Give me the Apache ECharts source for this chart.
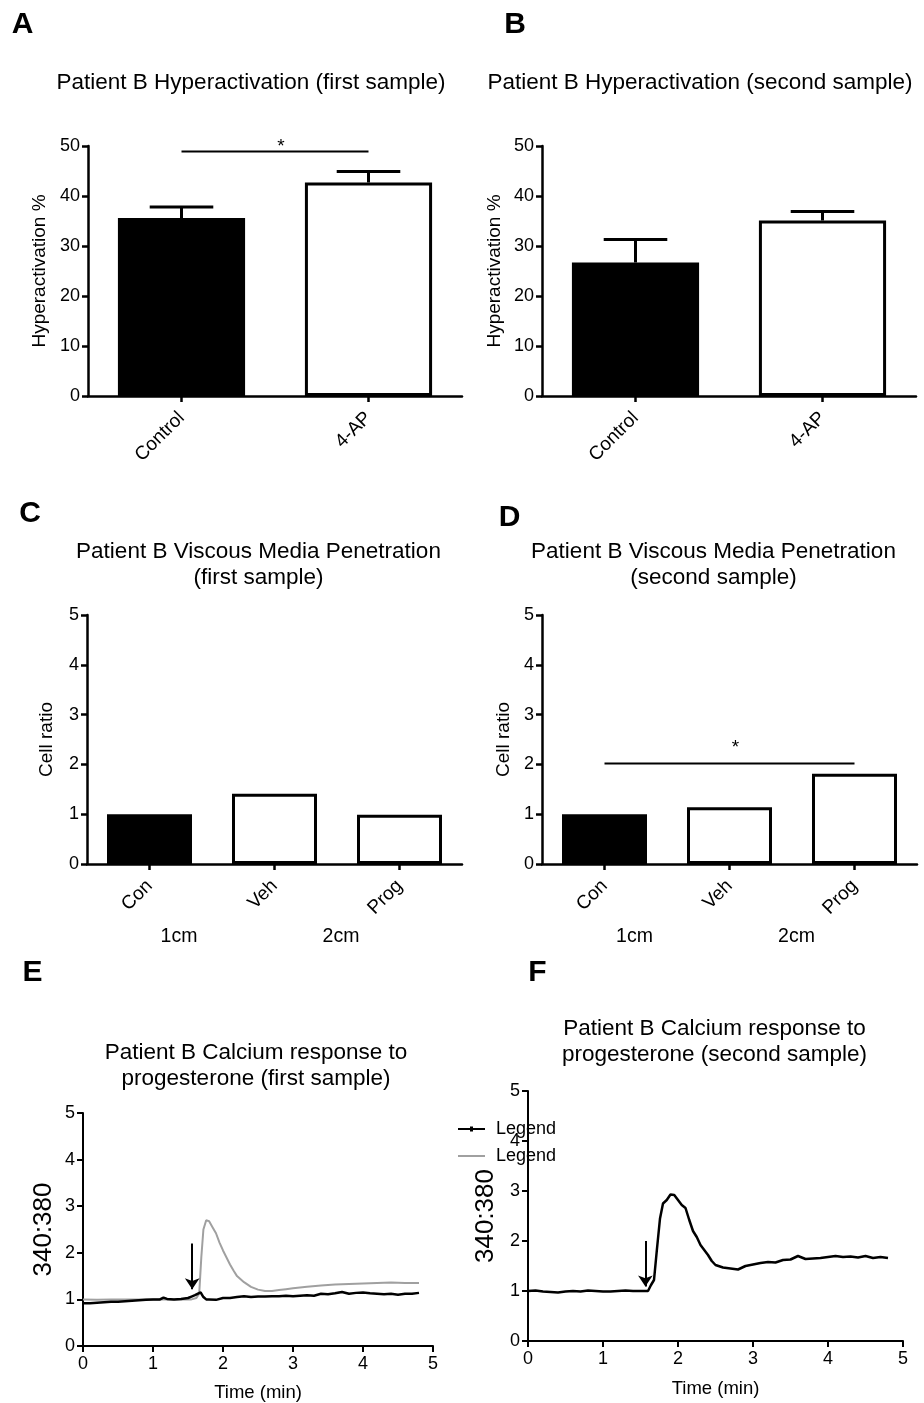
<!DOCTYPE html>
<html><head><meta charset="utf-8">
<script src="https://cdn.jsdelivr.net/npm/echarts@6/dist/echarts.min.js"></script>
<style>html,body{margin:0;padding:0;background:#fff}#c{width:924px;height:1403px}</style>
</head><body><div id="c"></div>
<script>
const FONT = '"Liberation Sans", Arial, Helvetica, sans-serif';

// ---- Panels A / B : hyperactivation ----
const hyperCats = ['Control', '4-AP'];
const hyperA = [35.6, 42.7];
const hyperAErr = [2.2, 2.2];
const hyperB = [26.7, 35.1];
const hyperBErr = [4.6, 1.8];
const sigA = [0, 1, 48.9, 50.6]; // from category, to category, line value, star value

// ---- Panels C / D : viscous media penetration ----
const penCats = ['Con', 'Veh', 'Prog'];
const penC = [1.0, 1.41, 0.99];
const penD = [1.0, 1.14, 1.81];
const sigD = [0, 2, 2.02, 2.41];
const penGroups = ['1cm', '2cm'];

// ---- Panel E : calcium response (first sample) ----
const eBlackT = [0,0.1,0.2,0.3,0.4,0.5,0.6,0.7,0.8,0.9,1.0,1.1,1.15,1.2,1.3,1.4,1.5,1.55,1.6,1.65,1.68,1.72,1.76,1.8,1.9,
  2.0,2.1,2.2,2.3,2.4,2.5,2.6,2.7,2.8,2.9,3.0,3.1,3.2,3.3,3.4,3.5,3.6,3.7,3.8,3.9,4.0,4.1,4.2,4.3,4.4,4.5,4.6,4.7,4.8];
const eBlackV = [0.92,0.92,0.93,0.94,0.95,0.95,0.96,0.97,0.98,0.99,1.0,1.0,1.04,1.01,1.0,1.01,1.03,1.06,1.09,1.13,1.15,1.05,1.0,1.0,0.99,
  1.03,1.03,1.05,1.07,1.05,1.06,1.06,1.07,1.07,1.08,1.07,1.08,1.09,1.08,1.12,1.11,1.13,1.16,1.12,1.14,1.15,1.13,1.12,1.11,1.12,1.10,1.12,1.12,1.14];
const eGrayT = [0,0.2,0.4,0.6,0.8,1.0,1.2,1.4,1.55,1.62,1.66,1.69,1.72,1.76,1.8,1.85,1.9,1.95,2.0,2.05,2.1,2.15,2.2,
  2.3,2.4,2.5,2.6,2.7,2.8,2.9,3.0,3.2,3.4,3.6,3.8,4.0,4.2,4.4,4.6,4.8];
const eGrayV = [1.0,0.99,1.0,1.0,1.0,1.0,1.0,1.0,1.0,1.03,1.12,1.9,2.5,2.7,2.68,2.55,2.42,2.22,2.05,1.9,1.75,1.62,1.5,
  1.37,1.27,1.21,1.18,1.18,1.2,1.22,1.24,1.27,1.3,1.32,1.33,1.34,1.35,1.36,1.35,1.35];
const arrowE = [1.56, 2.2, 1.22]; // time, start value, end value

// ---- Panel F : calcium response (second sample) ----
const fT = [0,0.1,0.2,0.3,0.4,0.5,0.6,0.7,0.8,0.9,1.0,1.1,1.2,1.3,1.4,1.5,1.6,
  1.64,1.68,1.72,1.76,1.8,1.85,1.9,1.95,2.0,2.05,2.1,2.15,2.2,2.25,2.3,2.35,2.4,2.45,2.5,
  2.6,2.7,2.8,2.9,3.0,3.1,3.2,3.3,3.4,3.5,3.6,3.7,3.8,3.9,4.0,4.1,4.2,4.3,4.4,4.5,4.6,4.7,4.8];
const fV = [1.0,1.01,0.99,0.98,0.97,0.99,1.0,0.99,1.01,1.0,0.99,0.99,1.0,1.01,1.0,1.0,1.0,
  1.12,1.22,1.85,2.45,2.75,2.82,2.93,2.92,2.82,2.72,2.66,2.42,2.2,2.08,1.92,1.82,1.72,1.6,1.52,
  1.47,1.45,1.43,1.5,1.53,1.56,1.58,1.57,1.62,1.63,1.7,1.64,1.65,1.66,1.68,1.7,1.68,1.69,1.67,1.7,1.66,1.68,1.66];
const arrowF = [1.565, 2.0, 1.09];

const zip = (a, b) => a.map((t, i) => [t, b[i]]);

// ---- helpers ----
const grids = [
  {left: 88, top: 146, width: 374, height: 250},
  {left: 542, top: 146, width: 374, height: 250},
  {left: 87, top: 615, width: 375, height: 249},
  {left: 542, top: 615, width: 375, height: 249},
  {left: 83, top: 1113, width: 350, height: 233},
  {left: 528, top: 1091, width: 375, height: 250}
];

function catX(gi, cats) {
  return {type: 'category', gridIndex: gi, data: cats,
    axisLine: {show: true, lineStyle: {color: '#000', width: 2.5}},
    axisTick: {show: true, alignWithLabel: true, length: 6, lineStyle: {color: '#000', width: 2.5}},
    axisLabel: {rotate: 45, fontSize: 19, color: '#000', fontFamily: FONT, margin: 19},
    splitLine: {show: false}};
}
function valY(gi, max, interval, name, nameGap, nameSize, lw) {
  return {type: 'value', gridIndex: gi, min: 0, max: max, interval: interval,
    name: name, nameLocation: 'middle', nameGap: nameGap, nameRotate: 90,
    nameTextStyle: {fontSize: nameSize, color: '#000', fontFamily: FONT},
    axisLine: {show: true, lineStyle: {color: '#000', width: lw}},
    axisTick: {show: true, length: 6, lineStyle: {color: '#000', width: lw}},
    axisLabel: {fontSize: 18, color: '#000', fontFamily: FONT, margin: 8},
    splitLine: {show: false}};
}
function timeX(gi, nameGap) {
  return {type: 'value', gridIndex: gi, min: 0, max: 5, interval: 1,
    name: 'Time (min)', nameLocation: 'middle', nameGap: nameGap,
    nameTextStyle: {fontSize: 18.5, color: '#000', fontFamily: FONT},
    axisLine: {show: true, onZero: false, lineStyle: {color: '#000', width: 2}},
    axisTick: {show: true, length: 6, lineStyle: {color: '#000', width: 2}},
    axisLabel: {fontSize: 18, color: '#000', fontFamily: FONT, margin: 9},
    splitLine: {show: false}};
}
function barSeries(gi, vals) {
  return {type: 'bar', xAxisIndex: gi, yAxisIndex: gi, barWidth: '68%', z: 2,
    data: vals.map((v, i) => ({value: v, itemStyle: {color: i === 0 ? '#000' : '#fff'}})),
    itemStyle: {borderColor: '#000', borderWidth: 3}};
}
function errSeries(gi, vals, errs) {
  return {type: 'custom', xAxisIndex: gi, yAxisIndex: gi, z: 3,
    data: vals.map((v, i) => [i, v, v + errs[i]]),
    encode: {x: 0, y: [1, 2]},
    renderItem(params, api) {
      const i = api.value(0);
      const p0 = api.coord([i, api.value(1)]);
      const p1 = api.coord([i, api.value(2)]);
      const half = api.size([1, 0])[0] * 0.68 / 4;
      return {type: 'group', children: [
        {type: 'line', shape: {x1: p0[0], y1: p0[1], x2: p1[0], y2: p1[1]}, style: {stroke: '#000', lineWidth: 3}},
        {type: 'line', shape: {x1: p1[0] - half, y1: p1[1], x2: p1[0] + half, y2: p1[1]}, style: {stroke: '#000', lineWidth: 3}}
      ]};
    }};
}
function sigSeries(gi, s) {
  return {type: 'custom', xAxisIndex: gi, yAxisIndex: gi, z: 4,
    data: [s], encode: {x: [0, 1], y: [2, 3]},
    renderItem(params, api) {
      const a = api.coord([api.value(0), api.value(2)]);
      const b = api.coord([api.value(1), api.value(2)]);
      const st = api.coord([api.value(0), api.value(3)]);
      const mx = (a[0] + b[0]) / 2 + 6;
      return {type: 'group', children: [
        {type: 'line', shape: {x1: a[0], y1: a[1], x2: b[0], y2: b[1]}, style: {stroke: '#000', lineWidth: 2}},
        {type: 'text', x: mx, y: st[1] + 4, style: {text: '*', font: '19px ' + FONT, fill: '#000', align: 'center', verticalAlign: 'middle'}}
      ]};
    }};
}
function arrowSeries(gi, ar) {
  return {type: 'lines', coordinateSystem: 'cartesian2d', xAxisIndex: gi, yAxisIndex: gi, z: 5,
    data: [{coords: [[ar[0], ar[1]], [ar[0], ar[2]]]}],
    symbol: ['none', 'arrow'], symbolSize: [7, 11],
    lineStyle: {color: '#000', width: 2, opacity: 1}};
}
function txt(x, y, text, font, extra) {
  return {type: 'text', x: x, y: y, style: Object.assign({text: text, font: font, fill: '#000', align: 'center', verticalAlign: 'middle'}, extra || {})};
}

const TF = '22.5px ' + FONT;
const LF = 'bold 30px ' + FONT;
const ICON_DOT_LINE = 'path://M0,1.6 L27,1.6 L27,3.4 L0,3.4 Z M12,0 L15,0 L15,5 L12,5 Z';
const ICON_LINE = 'path://M0,0 L27,0 L27,2 L0,2 Z';

const option = {
  animation: false,
  backgroundColor: '#fff',
  grid: grids,
  xAxis: [catX(0, hyperCats), catX(1, hyperCats), catX(2, penCats), catX(3, penCats), timeX(4, 37), timeX(5, 38)],
  yAxis: [
    valY(0, 50, 10, 'Hyperactivation %', 39, 19, 2.5),
    valY(1, 50, 10, 'Hyperactivation %', 38, 19, 2.5),
    valY(2, 5, 1, 'Cell ratio', 31, 19, 2.5),
    valY(3, 5, 1, 'Cell ratio', 29, 19, 2.5),
    valY(4, 5, 1, '340:380', 26, 26, 2),
    valY(5, 5, 1, '340:380', 29, 26, 2)
  ],
  legend: [
    {data: [{name: 'Legend', icon: ICON_DOT_LINE, itemStyle: {color: '#000'}}], left: 458, top: 1120,
      itemWidth: 27, itemHeight: 5, padding: 0,
      textStyle: {fontSize: 18, fontFamily: FONT, color: '#000', padding: [0, 0, 0, 6]}},
    {data: [{name: 'Legend 2', icon: ICON_LINE, itemStyle: {color: '#a0a0a0'}}], left: 458, top: 1147,
      itemWidth: 27, itemHeight: 2, padding: 0,
      formatter: () => 'Legend',
      textStyle: {fontSize: 18, fontFamily: FONT, color: '#000', padding: [0, 0, 0, 6]}}
  ],
  series: [
    barSeries(0, hyperA), errSeries(0, hyperA, hyperAErr), sigSeries(0, sigA),
    barSeries(1, hyperB), errSeries(1, hyperB, hyperBErr),
    barSeries(2, penC),
    barSeries(3, penD), sigSeries(3, sigD),
    {type: 'line', name: 'Legend 2', xAxisIndex: 4, yAxisIndex: 4, data: zip(eGrayT, eGrayV),
      symbol: 'none', lineStyle: {color: '#a0a0a0', width: 2}, itemStyle: {color: '#a0a0a0'}, z: 2},
    {type: 'line', name: 'Legend', xAxisIndex: 4, yAxisIndex: 4, data: zip(eBlackT, eBlackV),
      symbol: 'none', lineStyle: {color: '#000', width: 2.5}, itemStyle: {color: '#000'}, z: 3},
    arrowSeries(4, arrowE),
    {type: 'line', name: 'F', xAxisIndex: 5, yAxisIndex: 5, data: zip(fT, fV),
      symbol: 'none', lineStyle: {color: '#000', width: 2.5}, itemStyle: {color: '#000'}, z: 3},
    arrowSeries(5, arrowF)
  ],
  graphic: [
    txt(22.5, 25, 'A', LF), txt(515, 25, 'B', LF), txt(30, 513.5, 'C', LF),
    txt(509.5, 517.5, 'D', LF), txt(32.5, 972.5, 'E', LF), txt(537.5, 972.5, 'F', LF),
    txt(251, 83, 'Patient B Hyperactivation (first sample)', TF),
    txt(700, 83, 'Patient B Hyperactivation (second sample)', TF),
    txt(258.5, 565, 'Patient B Viscous Media Penetration\n(first sample)', TF, {lineHeight: 26.5}),
    txt(713.5, 565, 'Patient B Viscous Media Penetration\n(second sample)', TF, {lineHeight: 26.5}),
    txt(256, 1066, 'Patient B Calcium response to\nprogesterone (first sample)', TF, {lineHeight: 25.5}),
    txt(714.5, 1042, 'Patient B Calcium response to\nprogesterone (second sample)', TF, {lineHeight: 25.5}),
    txt(179, 937, penGroups[0], '19.5px ' + FONT), txt(341, 937, penGroups[1], '19.5px ' + FONT),
    txt(634.5, 937, penGroups[0], '19.5px ' + FONT), txt(796.5, 937, penGroups[1], '19.5px ' + FONT)
  ]
};

const chart = echarts.init(document.getElementById('c'), null, {renderer: 'canvas'});
chart.setOption(option);
</script>
</body></html>
